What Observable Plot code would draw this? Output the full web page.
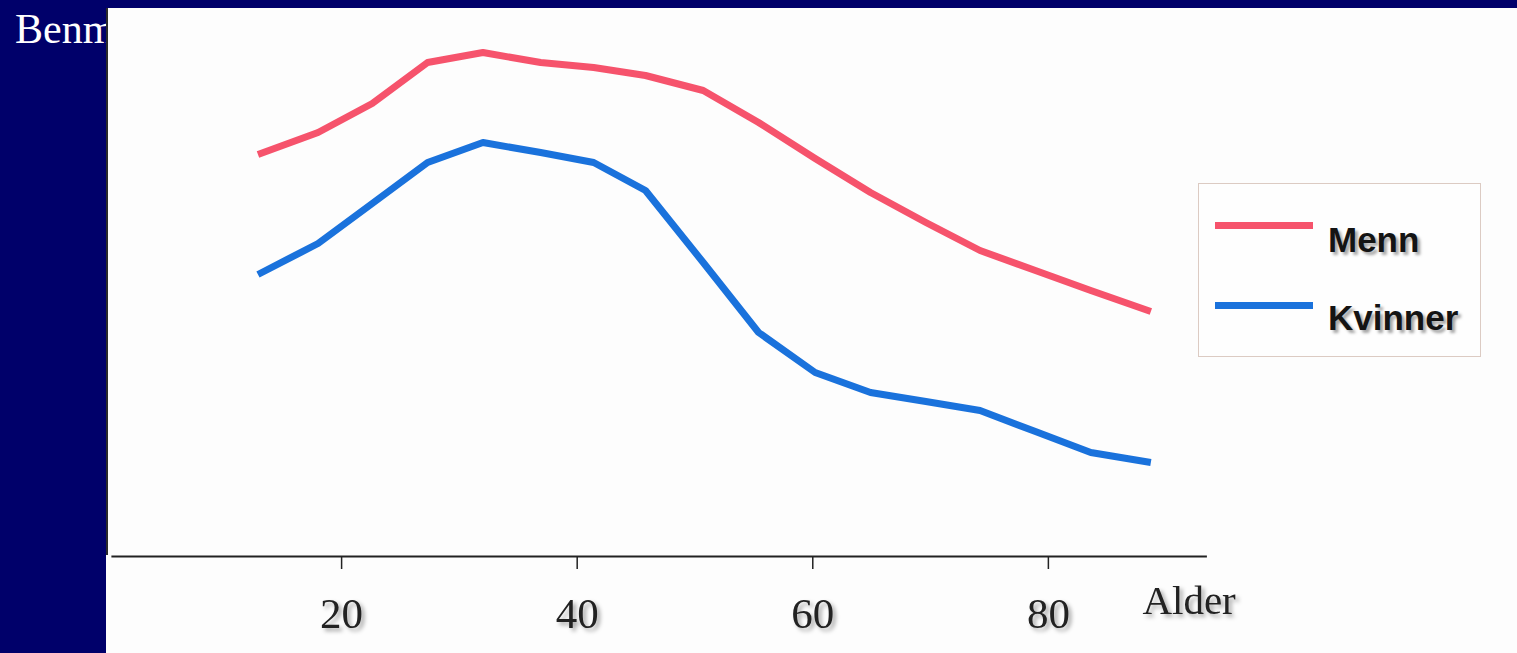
<!DOCTYPE html>
<html>
<head>
<meta charset="utf-8">
<script src="https://cdn.jsdelivr.net/npm/d3@7"></script>
<script src="https://cdn.jsdelivr.net/npm/@observablehq/plot@0.6"></script>
<style>
  html, body { margin:0; padding:0; width:1517px; height:653px; overflow:hidden; background:#00006a; }
  #title { position:absolute; left:15px; top:8px; font-family:"Liberation Serif", "Times New Roman", serif; font-size:42px; line-height:42px; color:#ffffff; white-space:nowrap; }
  #panel { position:absolute; left:106px; top:8px; width:1411px; height:645px; background:#fdfdfd; }
  #yline { position:absolute; left:106px; top:8px; width:2px; height:547px; background:#2a2a2a; }
  #chart { position:absolute; left:106px; top:8px; }
  #chart svg text { filter: drop-shadow(3px 3px 2px rgba(0,0,0,0.35)); }
  #legend { position:absolute; left:1198px; top:183px; width:283px; height:174px; border:1px solid #dccbc3; background:#fefefe; box-sizing:border-box; }
  .lg-line { position:absolute; left:16px; width:98px; height:7px; }
  .lg-text { position:absolute; left:129px; font-family:"Liberation Sans", Arial, sans-serif; font-weight:bold; font-size:35px; line-height:35px; color:#141414; text-shadow:3px 3px 3px rgba(0,0,0,0.35); }
</style>
</head>
<body>
<div id="title">Benm</div>
<div id="panel"></div>
<div id="yline"></div>
<div id="chart"></div>
<div id="legend"></div>
<script>
// Age (x) values
const ages = [12.9, 18.0, 22.6, 27.3, 32.0, 36.9, 41.4, 45.8, 50.7, 55.4, 60.2, 64.9, 69.6, 74.2, 78.9, 83.6, 88.7];
// Series values (arbitrary units, no y axis shown)
const menn    = [80.4, 84.8, 90.6, 98.8, 100.8, 98.8, 97.8, 96.2, 93.2, 86.8, 79.6, 72.8, 66.8, 61.2, 57.2, 53.2, 49.0];
const kvinner = [56.4, 62.6, 70.6, 78.8, 82.8, 80.8, 78.8, 73.2, 58.8, 44.8, 36.8, 32.8, 31.0, 29.2, 25.0, 20.8, 18.8];
const seriesNames = ["Menn", "Kvinner"];
const seriesColors = ["#f6536c", "#1a72dc"];
const xTicks = [20, 40, 60, 80];
const xLabel = "Alder";

const data = [
  ...ages.map((a, i) => ({age: a, value: menn[i], series: seriesNames[0]})),
  ...ages.map((a, i) => ({age: a, value: kvinner[i], series: seriesNames[1]}))
];

const chart = Plot.plot({
  width: 1411,
  height: 645,
  marginLeft: 5.4,
  marginRight: 310.1,
  marginTop: 23,
  marginBottom: 97,
  style: { background: "transparent", fontFamily: "'Liberation Serif', 'Times New Roman', serif", fontSize: "43px", color: "#222" },
  x: { domain: [0.5, 93.5], ticks: xTicks, label: null },
  y: { domain: [0, 105], axis: null },
  color: { domain: seriesNames, range: seriesColors },
  marks: [
    Plot.axisX({ ticks: xTicks, tickSize: 13, tickPadding: 28, fontSize: 43, strokeWidth: 1.5, label: null }),
    Plot.ruleY([0], { stroke: "#222", strokeWidth: 2 }),
    Plot.line(data, { x: "age", y: "value", z: "series", stroke: "series", strokeWidth: 7, strokeLinejoin: "round", strokeLinecap: "butt" }),
    Plot.text([xLabel], { frameAnchor: "bottom-right", text: d => d, textAnchor: "start", lineAnchor: "bottom", dx: -65, dy: 57, fontSize: 41, fill: "#222" })
  ]
});
document.getElementById("chart").appendChild(chart);

// HTML legend
const legend = document.getElementById("legend");
const lineTops = [38, 118];
const textTops = [38, 116];
seriesNames.forEach((name, i) => {
  const ln = document.createElement("div");
  ln.className = "lg-line";
  ln.style.top = lineTops[i] + "px";
  ln.style.background = seriesColors[i];
  legend.appendChild(ln);
  const tx = document.createElement("div");
  tx.className = "lg-text";
  tx.style.top = textTops[i] + "px";
  tx.textContent = name;
  legend.appendChild(tx);
});
</script>
</body>
</html>
